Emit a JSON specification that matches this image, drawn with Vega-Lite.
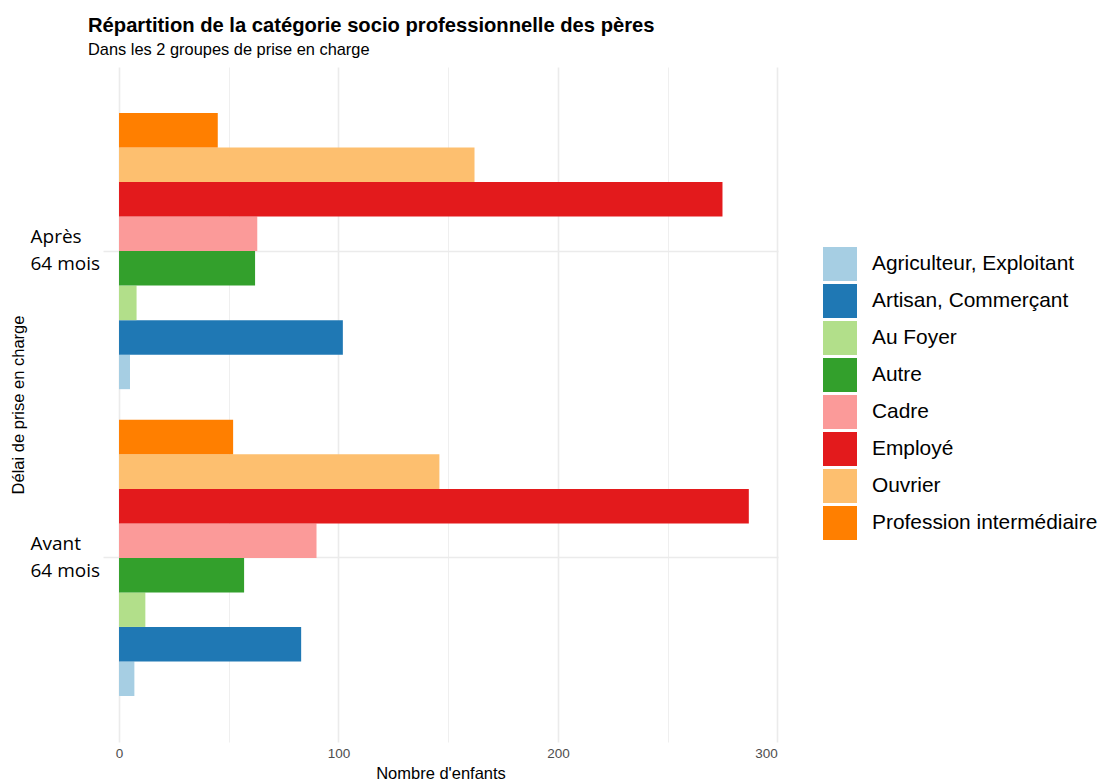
{
  "$schema": "https://vega.github.io/schema/vega-lite/v6.json",
  "autosize": {"type": "none"},
  "width": 675,
  "height": 675,
  "padding": {"left": 103, "top": 67, "right": 321, "bottom": 39},
  "background": "white",
  "title": {
    "text": "Répartition de la catégorie socio professionnelle des pères",
    "subtitle": "Dans les 2 groupes de prise en charge",
    "anchor": "start",
    "frame": "group",
    "orient": "top",
    "dx": -15,
    "offset": 9,
    "font": "Liberation Sans",
    "fontSize": 20.2,
    "fontWeight": "bold",
    "color": "black",
    "subtitleFont": "Liberation Sans",
    "subtitleFontSize": 16.4,
    "subtitleColor": "black",
    "subtitlePadding": 5
  },
  "config": {
    "view": {"stroke": null},
    "axis": {"gridColor": "#EBEBEB", "domain": false, "ticks": false}
  },
  "data": {
    "values": [
      {"groupe": "Après 64 mois", "categorie": "Agriculteur, Exploitant", "n": 5},
      {"groupe": "Après 64 mois", "categorie": "Artisan, Commerçant", "n": 102},
      {"groupe": "Après 64 mois", "categorie": "Au Foyer", "n": 8},
      {"groupe": "Après 64 mois", "categorie": "Autre", "n": 62},
      {"groupe": "Après 64 mois", "categorie": "Cadre", "n": 63},
      {"groupe": "Après 64 mois", "categorie": "Employé", "n": 275},
      {"groupe": "Après 64 mois", "categorie": "Ouvrier", "n": 162},
      {"groupe": "Après 64 mois", "categorie": "Profession intermédiaire", "n": 45},
      {"groupe": "Avant 64 mois", "categorie": "Agriculteur, Exploitant", "n": 7},
      {"groupe": "Avant 64 mois", "categorie": "Artisan, Commerçant", "n": 83},
      {"groupe": "Avant 64 mois", "categorie": "Au Foyer", "n": 12},
      {"groupe": "Avant 64 mois", "categorie": "Autre", "n": 57},
      {"groupe": "Avant 64 mois", "categorie": "Cadre", "n": 90},
      {"groupe": "Avant 64 mois", "categorie": "Employé", "n": 287},
      {"groupe": "Avant 64 mois", "categorie": "Ouvrier", "n": 146},
      {"groupe": "Avant 64 mois", "categorie": "Profession intermédiaire", "n": 52}
    ]
  },
  "layer": [
    {
      "mark": {"type": "bar", "opacity": 0},
      "encoding": {
        "x": {
          "field": "n",
          "type": "quantitative",
          "scale": {"domain": [-7.3, 300.3], "nice": false, "zero": false},
          "axis": {
            "orient": "top",
            "values": [50, 150, 250],
            "labels": false,
            "title": null,
            "grid": true,
            "gridWidth": 0.8
          }
        },
        "y": {"field": "groupe", "type": "nominal", "sort": ["Après 64 mois", "Avant 64 mois"]}
      }
    },
    {
      "mark": {"type": "bar"},
      "encoding": {
        "x": {
          "field": "n",
          "type": "quantitative",
          "axis": {
            "orient": "bottom",
            "values": [0, 100, 200, 300],
            "grid": true,
            "gridWidth": 1.6,
            "labelFont": "Liberation Sans",
            "labelFontSize": 13.5,
            "labelColor": "#4D4D4D",
            "labelPadding": 4,
            "title": "Nombre d'enfants",
            "titleFont": "Liberation Sans",
            "titleFontSize": 16.5,
            "titleFontWeight": "normal",
            "titleColor": "black",
            "titlePadding": 6
          }
        },
        "y": {
          "field": "groupe",
          "type": "nominal",
          "sort": ["Après 64 mois", "Avant 64 mois"],
          "scale": {"paddingInner": 0.1, "paddingOuter": 0.15},
          "axis": {
            "grid": true,
            "gridWidth": 1.6,
            "bandPosition": 0.5,
            "labelExpr": "[slice(datum.label, 0, 5), slice(datum.label, 6)]",
            "labelFont": "Open Sans",
            "labelFontSize": 19,
            "labelLineHeight": 27,
            "labelColor": "black",
            "labelAlign": "left",
            "labelBaseline": "middle",
            "labelOffset": -14,
            "labelPadding": 73,
            "title": "Délai de prise en charge",
            "titleFont": "Liberation Sans",
            "titleFontSize": 16.5,
            "titleFontWeight": "normal",
            "titleColor": "black",
            "titleX": -85,
            "titleY": 337.5,
            "titleAngle": -90,
            "titleAlign": "center",
            "titleBaseline": "middle"
          }
        },
        "yOffset": {
          "field": "categorie",
          "type": "nominal",
          "sort": ["Profession intermédiaire", "Ouvrier", "Employé", "Cadre", "Autre", "Au Foyer", "Artisan, Commerçant", "Agriculteur, Exploitant"],
          "scale": {"paddingInner": 0, "paddingOuter": 0}
        },
        "color": {
          "field": "categorie",
          "type": "nominal",
          "sort": ["Agriculteur, Exploitant", "Artisan, Commerçant", "Au Foyer", "Autre", "Cadre", "Employé", "Ouvrier", "Profession intermédiaire"],
          "scale": {
            "domain": ["Agriculteur, Exploitant", "Artisan, Commerçant", "Au Foyer", "Autre", "Cadre", "Employé", "Ouvrier", "Profession intermédiaire"],
            "range": ["#A6CEE3", "#1F78B4", "#B2DF8A", "#33A02C", "#FB9A99", "#E31A1C", "#FDBF6F", "#FF7F00"]
          },
          "legend": {
            "title": null,
            "orient": "none",
            "legendX": 720,
            "legendY": 180,
            "padding": 0,
            "symbolType": "square",
            "symbolSize": 1156,
            "symbolStrokeWidth": 0,
            "symbolOpacity": 1,
            "labelFont": "Liberation Sans",
            "labelFontSize": 20.9,
            "labelColor": "black",
            "labelOffset": 15,
            "labelLimit": 400,
            "rowPadding": 3
          }
        }
      }
    }
  ],
  "resolve": {"scale": {"x": "shared", "y": "shared"}, "axis": {"x": "independent"}}
}
